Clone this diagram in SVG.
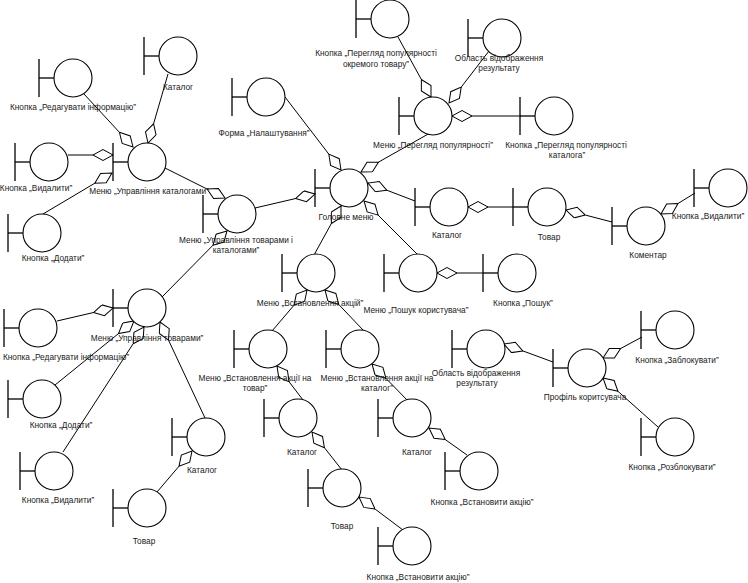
<svg xmlns="http://www.w3.org/2000/svg" xmlns:xlink="http://www.w3.org/1999/xlink" width="748" height="583" viewBox="0 0 748 583">
  <style>
    .ln { stroke: #000; stroke-width: 1; fill: none; marker-end: url(#agg); }
    .ic line { stroke: #000; stroke-width: 1.3; }
    .ic circle { stroke: #000; stroke-width: 1.1; fill: #fff; }
    text { font-family: "Liberation Sans", Arial, sans-serif; font-size: 8.3px; fill: #1a1a1a; text-anchor: middle; }
  </style>
  <defs>
    <!-- hollow aggregation diamond, tip sits on the whole -->
    <marker id="agg" markerWidth="22" markerHeight="14" refX="20" refY="6" orient="auto" markerUnits="userSpaceOnUse">
      <path d="M0,6 L10,0.5 L20,6 L10,11.5 Z" fill="#fff" stroke="#000" stroke-width="1"/>
    </marker>
    <!-- boundary object icon: bar + stub + circle -->
    <g id="bnd" class="ic">
      <line x1="-34" y1="-19" x2="-34" y2="19"/>
      <line x1="-34" y1="0" x2="-19" y2="0"/>
      <circle r="19"/>
    </g>
  </defs>
  <rect width="748" height="583" fill="#fff"/>

  <g id="connectors">
    <line class="ln" x1="84" y1="94" x2="133" y2="147"/>
    <line class="ln" x1="168" y1="74" x2="148" y2="143"/>
    <line class="ln" x1="68" y1="155" x2="113" y2="155"/>
    <line class="ln" x1="43" y1="214" x2="112" y2="173"/>
    <line class="ln" x1="165" y1="168" x2="225" y2="198"/>
    <line class="ln" x1="255" y1="208" x2="315" y2="194"/>
    <line class="ln" x1="162" y1="297" x2="227" y2="231"/>
    <line class="ln" x1="285" y1="97" x2="341" y2="170"/>
    <line class="ln" x1="430" y1="133" x2="361" y2="172"/>
    <line class="ln" x1="398" y1="37" x2="431" y2="97"/>
    <line class="ln" x1="489" y1="51" x2="449" y2="103"/>
    <line class="ln" x1="521" y1="116" x2="452" y2="116"/>
    <line class="ln" x1="415" y1="201" x2="368" y2="183"/>
    <line class="ln" x1="513" y1="207" x2="468" y2="207"/>
    <line class="ln" x1="612" y1="222" x2="566" y2="210"/>
    <line class="ln" x1="695" y1="193" x2="661" y2="214"/>
    <line class="ln" x1="417" y1="254" x2="364" y2="201"/>
    <line class="ln" x1="483" y1="273" x2="437" y2="273"/>
    <line class="ln" x1="314" y1="255" x2="341" y2="206"/>
    <line class="ln" x1="272" y1="331" x2="307" y2="290"/>
    <line class="ln" x1="363" y1="330" x2="325" y2="290"/>
    <line class="ln" x1="303" y1="400" x2="277" y2="366"/>
    <line class="ln" x1="408" y1="401" x2="372" y2="364"/>
    <line class="ln" x1="342" y1="470" x2="312" y2="432"/>
    <line class="ln" x1="403" y1="530" x2="359" y2="497"/>
    <line class="ln" x1="467" y1="455" x2="429" y2="428"/>
    <line class="ln" x1="57" y1="321" x2="113" y2="308"/>
    <line class="ln" x1="55" y1="385" x2="134" y2="321"/>
    <line class="ln" x1="63" y1="452" x2="144" y2="327"/>
    <line class="ln" x1="205" y1="418" x2="160" y2="322"/>
    <line class="ln" x1="157" y1="492" x2="192" y2="451"/>
    <line class="ln" x1="553" y1="362" x2="504" y2="344"/>
    <line class="ln" x1="642" y1="337" x2="603" y2="358"/>
    <line class="ln" x1="658" y1="427" x2="603" y2="378"/>
  </g>

  <g id="n1"><use xlink:href="#bnd" x="73" y="78"/><text x="73" y="110">Кнопка „Редагувати інформацію”</text></g>
  <g id="n2"><use xlink:href="#bnd" x="178" y="56"/><text x="178" y="90">Каталог</text></g>
  <g id="n3"><use xlink:href="#bnd" x="49" y="162"/><text x="36" y="191">Кнопка „Видалити”</text></g>
  <g id="n4"><use xlink:href="#bnd" x="147" y="162"/><text x="149" y="194">Меню „Управління каталогами”</text></g>
  <g id="n5"><use xlink:href="#bnd" x="42" y="233"/><text x="53" y="261">Кнопка „Додати”</text></g>
  <g id="n6"><use xlink:href="#bnd" x="237" y="214"/><text x="236" y="243">Меню „Управління товарами і</text><text x="236" y="253">каталогами”</text></g>
  <g id="n7"><use xlink:href="#bnd" x="266" y="97"/><text x="264" y="136">Форма „Налаштування”</text></g>
  <g id="n8"><use xlink:href="#bnd" x="390" y="19"/><text x="376" y="56">Кнопка „Перегляд популярності</text><text x="376" y="67">окремого товару”</text></g>
  <g id="n9"><use xlink:href="#bnd" x="502" y="38"/><text x="499" y="61">Область відображення</text><text x="499" y="71">результату</text></g>
  <g id="n10"><use xlink:href="#bnd" x="433" y="116"/><text x="433" y="148">Меню „Перегляд популярності”</text></g>
  <g id="n11"><use xlink:href="#bnd" x="554" y="116"/><text x="566" y="148">Кнопка „Перегляд популярності</text><text x="567" y="158">каталога”</text></g>
  <g id="n12"><use xlink:href="#bnd" x="349" y="188"/><text x="346" y="220">Головне меню</text></g>
  <g id="n13"><use xlink:href="#bnd" x="449" y="207"/><text x="447" y="238">Каталог</text></g>
  <g id="n14"><use xlink:href="#bnd" x="547" y="207"/><text x="549" y="240">Товар</text></g>
  <g id="n15"><use xlink:href="#bnd" x="646" y="226"/><text x="648" y="258">Коментар</text></g>
  <g id="n16"><use xlink:href="#bnd" x="728" y="188"/><text x="708" y="219">Кнопка „Видалити”</text></g>
  <g id="n17"><use xlink:href="#bnd" x="418" y="273"/><text x="416" y="313">Меню „Пошук користувача”</text></g>
  <g id="n18"><use xlink:href="#bnd" x="517" y="273"/><text x="523" y="306">Кнопка „Пошук”</text></g>
  <g id="n19"><use xlink:href="#bnd" x="316" y="273"/><text x="310" y="306">Меню „Встановлення акцій”</text></g>
  <g id="n20"><use xlink:href="#bnd" x="147" y="308"/><text x="147" y="341">Меню „Управління товарами”</text></g>
  <g id="n21"><use xlink:href="#bnd" x="38" y="328"/><text x="66" y="360">Кнопка „Редагувати інформацію”</text></g>
  <g id="n22"><use xlink:href="#bnd" x="42" y="399"/><text x="61" y="428">Кнопка „Додати”</text></g>
  <g id="n23"><use xlink:href="#bnd" x="54" y="471"/><text x="58" y="503">Кнопка „Видалити”</text></g>
  <g id="n24"><use xlink:href="#bnd" x="206" y="437"/><text x="202" y="473">Каталог</text></g>
  <g id="n25"><use xlink:href="#bnd" x="147" y="508"/><text x="144" y="544">Товар</text></g>
  <g id="n26"><use xlink:href="#bnd" x="268" y="349"/><text x="255" y="381">Меню „Встановлення акції на</text><text x="255" y="391">товар”</text></g>
  <g id="n27"><use xlink:href="#bnd" x="360" y="349"/><text x="377" y="381">Меню „Встановлення акції на</text><text x="377" y="391">каталог”</text></g>
  <g id="n28"><use xlink:href="#bnd" x="298" y="418"/><text x="302" y="455">Каталог</text></g>
  <g id="n29"><use xlink:href="#bnd" x="412" y="418"/><text x="417" y="455">Каталог</text></g>
  <g id="n30"><use xlink:href="#bnd" x="342" y="488"/><text x="342" y="529">Товар</text></g>
  <g id="n31"><use xlink:href="#bnd" x="412" y="546"/><text x="418" y="580">Кнопка „Встановити акцію”</text></g>
  <g id="n32"><use xlink:href="#bnd" x="479" y="471"/><text x="482" y="505">Кнопка „Встановити акцію”</text></g>
  <g id="n33"><use xlink:href="#bnd" x="486" y="349"/><text x="476" y="376">Область відображення</text><text x="477" y="386">результату</text></g>
  <g id="n34"><use xlink:href="#bnd" x="587" y="368"/><text x="585" y="400">Профіль коритсувача</text></g>
  <g id="n35"><use xlink:href="#bnd" x="675" y="330"/><text x="677" y="363">Кнопка „Заблокувати”</text></g>
  <g id="n36"><use xlink:href="#bnd" x="675" y="437"/><text x="672" y="470">Кнопка „Розблокувати”</text></g>
</svg>
